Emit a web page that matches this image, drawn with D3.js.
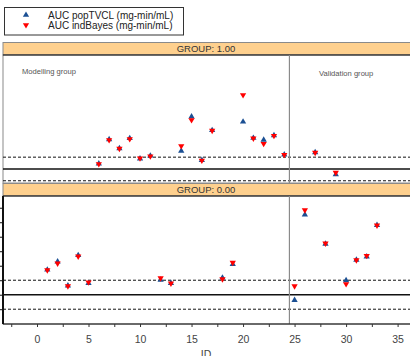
<!DOCTYPE html>
<html>
<head>
<meta charset="utf-8">
<script src="https://cdn.jsdelivr.net/npm/d3@7"></script>
<style>
  body { margin: 0; background: #fff; }
  svg { display: block; font-family: "Liberation Sans", Arial, sans-serif; }
</style>
</head>
<body>
<script>
// GROUP: 1.00 (modelling + validation subjects)
const ids1 = [6, 7, 8, 9, 10, 11, 14, 15, 16, 17, 20, 21, 22, 23, 24, 27, 29];
const pop1 = [0.45, 2.50, 1.75, 2.60, 0.88, 1.12, 1.53, 4.43, 0.75, 3.28, 4.00, 2.62, 2.46, 2.85, 1.22, 1.40, -0.47];
const ind1 = [0.42, 2.46, 1.72, 2.54, 0.91, 1.08, 1.95, 4.15, 0.72, 3.25, 6.27, 2.60, 2.14, 2.82, 1.21, 1.38, -0.31];

// GROUP: 0.00
const ids0 = [1, 2, 3, 4, 5, 12, 13, 18, 19, 25, 26, 28, 30, 31, 32, 33];
const pop0 = [1.72, 2.28, 0.62, 2.72, 0.79, 1.02, 0.80, 1.17, 2.10, -0.37, 5.52, 3.50, 0.99, 2.40, 2.62, 4.80];
const ind0 = [1.70, 2.17, 0.60, 2.65, 0.86, 1.15, 0.79, 1.08, 2.21, 0.60, 5.84, 3.54, 0.74, 2.39, 2.69, 4.79];

const seriesNames = ["AUC popTVCL (mg-min/mL)", "AUC indBayes (mg-min/mL)"];
const xTicks = d3.range(-2.5, 35.1, 2.5);
const xLabels = [0, 5, 10, 15, 20, 25, 30, 35];
const refLines = [-1, 0, 1];
const splitId = 24.5;

const width = 410, height = 356;
const blue = "#1b4f93", red = "#ff0000", stripFill = "#fed08e";

const svg = d3.select("body").append("svg")
    .attr("width", width)
    .attr("height", height);

const x = d3.scaleLinear().domain([-3.3, 36.3]).range([3, 411]);

const panels = [
  { label: "GROUP: 1.00", ids: ids1, pop: pop1, ind: ind1, top: 55, bottom: 183,
    y: d3.scaleLinear().domain([-1.19, 9.66]).range([183, 55]), axis: false },
  { label: "GROUP: 0.00", ids: ids0, pop: pop0, ind: ind0, top: 196, bottom: 324,
    y: d3.scaleLinear().domain([-2.02, 6.81]).range([324, 196]), axis: true }
];

const triUp = d3.symbol().type(d3.symbolTriangle).size(17);

panels.forEach(p => {
  const g = svg.append("g");

  // strip
  g.append("rect")
      .attr("x", 3).attr("y", p.top - 12.5)
      .attr("width", 420).attr("height", 12.5)
      .attr("fill", stripFill)
      .attr("stroke", "#8a8a8a");
  g.append("text")
      .attr("x", 206).attr("y", p.top - 3)
      .attr("text-anchor", "middle")
      .attr("font-size", 9.5)
      .attr("fill", "#333")
      .text(p.label);

  // panel box
  g.append("rect")
      .attr("x", 3).attr("y", p.top)
      .attr("width", 420).attr("height", p.bottom - p.top)
      .attr("fill", "#fff")
      .attr("stroke", "#8a8a8a");
  g.append("line")
      .attr("x1", 3).attr("x2", 420)
      .attr("y1", p.top).attr("y2", p.top)
      .attr("stroke", "#111").attr("stroke-width", 1.2);

  // reference lines
  refLines.forEach(v => {
    g.append("line")
        .attr("x1", 3).attr("x2", 420)
        .attr("y1", p.y(v)).attr("y2", p.y(v))
        .attr("stroke", "#111")
        .attr("stroke-width", v === 0 ? 1.6 : 1)
        .attr("stroke-dasharray", v === 0 ? null : "3,2");
  });

  // modelling / validation split
  g.append("line")
      .attr("x1", x(splitId)).attr("x2", x(splitId))
      .attr("y1", p.top).attr("y2", p.bottom)
      .attr("stroke", "#8a8a8a").attr("stroke-width", 1.2);

  // y axis only drawn on the lower panel (left side)
  if (p.axis) {
    const yAxis = d3.axisLeft(p.y).tickValues(d3.range(-1, 7)).tickSize(3).tickFormat("");
    const ax = g.append("g").attr("transform", "translate(3,0)").call(yAxis);
    ax.select(".domain").remove();
    ax.selectAll("line").attr("stroke", "#111");
    g.append("line")
        .attr("x1", 3).attr("x2", 3)
        .attr("y1", p.top).attr("y2", p.bottom)
        .attr("stroke", "#111").attr("stroke-width", 2);
    g.append("line")
        .attr("x1", 3).attr("x2", 420)
        .attr("y1", p.bottom).attr("y2", p.bottom)
        .attr("stroke", "#111").attr("stroke-width", 1.2);
  }

  const rows = p.ids.map((id, i) => ({ id, pop: p.pop[i], ind: p.ind[i] }));

  g.append("g").selectAll("path")
      .data(rows).join("path")
      .attr("d", triUp)
      .attr("transform", d => `translate(${x(d.id)},${p.y(d.pop)})`)
      .attr("fill", blue);

  g.append("g").selectAll("path")
      .data(rows).join("path")
      .attr("d", triUp)
      .attr("transform", d => `translate(${x(d.id)},${p.y(d.ind)}) rotate(180)`)
      .attr("fill", red);
});

// panel notes
svg.append("text").attr("x", 22).attr("y", 73.5)
    .attr("font-size", 7.6).attr("fill", "#555")
    .text("Modelling group");
svg.append("text").attr("x", 319).attr("y", 75.5)
    .attr("font-size", 7.6).attr("fill", "#555")
    .text("Validation group");

// x axis
const xAxis = d3.axisBottom(x).tickValues(xTicks).tickSize(3)
    .tickFormat(d => xLabels.includes(d) ? d : "");
const xg = svg.append("g").attr("transform", "translate(0,324)").call(xAxis);
xg.select(".domain").remove();
xg.selectAll("line").attr("stroke", "#333");
xg.selectAll("text")
    .attr("font-size", 10.5)
    .attr("fill", "#444")
    .attr("font-family", "Liberation Sans, Arial, sans-serif")
    .attr("dy", "1.25em");

svg.append("text")
    .attr("x", 206).attr("y", 358)
    .attr("text-anchor", "middle")
    .attr("font-size", 10.5).attr("fill", "#444")
    .text("ID");

// legend
const legend = svg.append("g");
legend.append("rect")
    .attr("x", 4.5).attr("y", 7.5)
    .attr("width", 179).attr("height", 27.5)
    .attr("fill", "#fff").attr("stroke", "#333");
[blue, red].forEach((c, i) => {
  legend.append("path")
      .attr("d", triUp)
      .attr("transform", `translate(26,${15 + i * 10}) ${i === 1 ? "rotate(180)" : ""}`)
      .attr("fill", c);
  legend.append("text")
      .attr("x", 48).attr("y", 18.5 + i * 10)
      .attr("font-size", 10).attr("fill", "#222")
      .text(seriesNames[i]);
});
</script>
</body>
</html>
